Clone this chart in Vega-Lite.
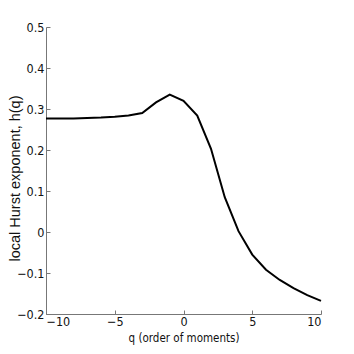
{
  "$schema": "https://vega.github.io/schema/vega-lite/v6.json",
  "width": 275,
  "height": 287,
  "autosize": {"type": "none"},
  "padding": {"left": 46, "top": 27, "right": 33, "bottom": 40},
  "background": "white",
  "config": {
    "view": {"stroke": null},
    "axis": {
      "domainColor": "#777777",
      "tickColor": "#777777",
      "labelColor": "#111111",
      "titleColor": "#111111",
      "grid": false,
      "labelFont": "DejaVu Sans Condensed",
      "labelFontSize": 12.5,
      "titleFontWeight": "normal"
    }
  },
  "data": {
    "values": [
      {"q": -10, "h": 0.277},
      {"q": -9, "h": 0.277},
      {"q": -8, "h": 0.277},
      {"q": -7, "h": 0.278},
      {"q": -6, "h": 0.279},
      {"q": -5, "h": 0.281},
      {"q": -4, "h": 0.284},
      {"q": -3, "h": 0.290},
      {"q": -2, "h": 0.316},
      {"q": -1, "h": 0.335},
      {"q": 0, "h": 0.320},
      {"q": 1, "h": 0.284},
      {"q": 2, "h": 0.203},
      {"q": 3, "h": 0.085},
      {"q": 4, "h": 0.002},
      {"q": 5, "h": -0.055},
      {"q": 6, "h": -0.092},
      {"q": 7, "h": -0.117},
      {"q": 8, "h": -0.137},
      {"q": 9, "h": -0.154},
      {"q": 10, "h": -0.168}
    ]
  },
  "mark": {"type": "line", "color": "black", "strokeWidth": 2},
  "encoding": {
    "x": {
      "field": "q",
      "type": "quantitative",
      "scale": {"domain": [-10, 10], "nice": false, "zero": false},
      "axis": {
        "values": [-10, -5, 0, 5, 10],
        "tickSize": -4,
        "labelPadding": 5,
        "title": "q (order of moments)",
        "titleFont": "DejaVu Sans Condensed",
        "titleFontSize": 11.5,
        "titlePadding": 5
      }
    },
    "y": {
      "field": "h",
      "type": "quantitative",
      "scale": {"domain": [-0.2, 0.5], "nice": false, "zero": false},
      "axis": {
        "values": [-0.2, -0.1, 0, 0.1, 0.2, 0.3, 0.4, 0.5],
        "format": "~g",
        "tickSize": -4,
        "labelPadding": 6,
        "title": "local Hurst exponent, h(q)",
        "titleFont": "Liberation Sans",
        "titleFontSize": 14.5,
        "titleAngle": -90,
        "titleAlign": "center",
        "titleBaseline": "alphabetic",
        "titleX": -27,
        "titleY": 151
      }
    }
  }
}
